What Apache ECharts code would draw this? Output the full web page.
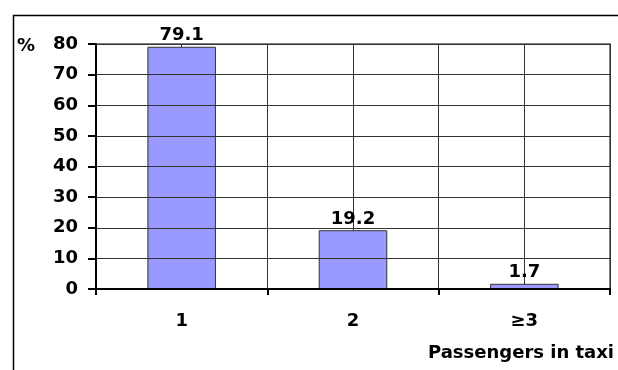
<!DOCTYPE html>
<html lang="en">
<head>
    <meta charset="UTF-8">
    <title>Passengers in taxi</title>
    <style>
        html, body { margin: 0; padding: 0; background: #fff; }
    </style>
</head>
<body>
<div id="main" style="width: 618px;height:370px;"></div>
<script src="https://cdn.jsdelivr.net/npm/echarts@6/dist/echarts.min.js"></script>
<script>
    var categories = ['1', '2', '≥3'];
    var shares = [79.1, 19.2, 1.7];
    var yTicks = [0, 10, 20, 30, 40, 50, 60, 70, 80];

    var font = 'DejaVu Sans';
    var myChart = echarts.init(document.getElementById('main'));

    var option = {
        animation: false,
        backgroundColor: '#fff',
        grid: {
            left: 96, right: 8, top: 44, bottom: 81,
            show: true,
            borderColor: '#808080',
            borderWidth: 2
        },
        graphic: [
            // outer frame (only top and left edges visible)
            {
                type: 'polyline',
                shape: { points: [[13.5, 370], [13.5, 15.5], [618, 15.5]] },
                style: { stroke: '#000', lineWidth: 1.5, fill: null }
            },
            {
                type: 'text', left: 17, top: 37,
                style: { text: '%', font: 'bold 18px "DejaVu Sans"', fill: '#000' }
            },
            {
                type: 'text', left: 428, top: 344,
                style: { text: 'Passengers in taxi', font: 'bold 18px "DejaVu Sans"', fill: '#000' }
            }
        ],
        xAxis: [{
            type: 'category',
            data: categories,
            axisLine: { lineStyle: { color: '#000', width: 2 } },
            axisTick: { show: true, length: 6, lineStyle: { color: '#000', width: 2 } },
            axisLabel: { margin: 23, color: '#000', fontFamily: font, fontWeight: 'bold', fontSize: 18 },
            splitLine: { show: false },
            z: 5
        }, {
            // half-category grid lines
            type: 'value',
            min: 0, max: categories.length * 2, interval: 1,
            position: 'bottom',
            axisLine: { show: false },
            axisTick: { show: false },
            axisLabel: { show: false },
            splitLine: { show: true, lineStyle: { color: '#333', width: 1 } }
        }],
        yAxis: {
            type: 'value',
            min: yTicks[0], max: yTicks[yTicks.length - 1], interval: 10,
            axisLine: { show: true, lineStyle: { color: '#000', width: 2 } },
            axisTick: { show: true, length: 8, lineStyle: { color: '#000', width: 2 } },
            axisLabel: { margin: 18, color: '#000', fontFamily: font, fontWeight: 'bold', fontSize: 18 },
            splitLine: { show: true, lineStyle: { color: '#333', width: 1 } },
            z: 5
        },
        series: [{
            type: 'bar',
            data: shares,
            xAxisIndex: 0,
            barCategoryGap: '60%',
            itemStyle: { color: '#9999ff', borderColor: '#333', borderWidth: 1 },
            label: {
                show: true, position: 'top', distance: 2,
                color: '#000', fontFamily: font, fontWeight: 'bold', fontSize: 18
            }
        }]
    };

    myChart.setOption(option);
</script>
</body>
</html>
